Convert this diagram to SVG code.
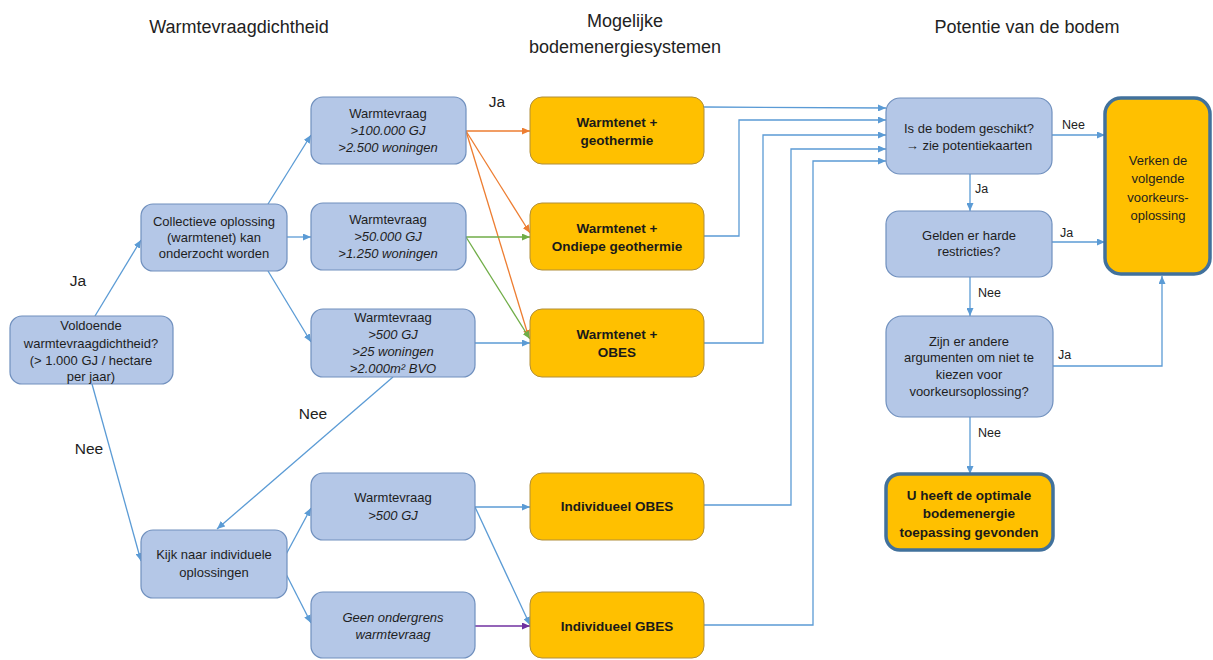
<svg xmlns="http://www.w3.org/2000/svg" width="1213" height="660" viewBox="0 0 1213 660">
<defs>
<style>
.bg{fill:#ffffff}
.blue{fill:#B4C7E7;stroke:#7090BE;stroke-width:1.2}
.orange{fill:#FFC000;stroke:#B08E3A;stroke-width:1}
.final{fill:#FFC000;stroke:#41719C;stroke-width:3.5}
.t{font-family:"Liberation Sans",Arial,sans-serif;font-size:13px;fill:#1e1e1e;text-anchor:middle}
.ti{font-family:"Liberation Sans",Arial,sans-serif;font-size:13px;font-style:italic;fill:#1e1e1e;text-anchor:middle}
.tb{font-family:"Liberation Sans",Arial,sans-serif;font-size:13.5px;font-weight:bold;fill:#1a1a1a;text-anchor:middle}
.title{font-family:"Liberation Sans",Arial,sans-serif;font-size:18px;fill:#222;text-anchor:middle}
.lbl{font-family:"Liberation Sans",Arial,sans-serif;font-size:15.5px;fill:#222;text-anchor:middle}
.sl{font-family:"Liberation Sans",Arial,sans-serif;font-size:12.5px;fill:#222}
.c{fill:none;stroke:#5B9BD5;stroke-width:1.3;marker-end:url(#ab)}
.co{fill:none;stroke:#ED7D31;stroke-width:1.3;marker-end:url(#ao)}
.cg{fill:none;stroke:#70AD47;stroke-width:1.3;marker-end:url(#ag)}
.cp{fill:none;stroke:#7030A0;stroke-width:1.3;marker-end:url(#ap)}
</style>
<marker id="ab" markerWidth="8" markerHeight="7" refX="8" refY="3.5" orient="auto" markerUnits="userSpaceOnUse"><path d="M0,0 L8,3.5 L0,7 z" fill="#5B9BD5"/></marker>
<marker id="ao" markerWidth="8" markerHeight="7" refX="8" refY="3.5" orient="auto" markerUnits="userSpaceOnUse"><path d="M0,0 L8,3.5 L0,7 z" fill="#ED7D31"/></marker>
<marker id="ag" markerWidth="8" markerHeight="7" refX="8" refY="3.5" orient="auto" markerUnits="userSpaceOnUse"><path d="M0,0 L8,3.5 L0,7 z" fill="#70AD47"/></marker>
<marker id="ap" markerWidth="8" markerHeight="7" refX="8" refY="3.5" orient="auto" markerUnits="userSpaceOnUse"><path d="M0,0 L8,3.5 L0,7 z" fill="#7030A0"/></marker>
</defs>
<rect class="bg" x="0" y="0" width="1213" height="660"/>

<g id="titles">
<text class="title" x="239" y="33">Warmtevraagdichtheid</text>
<text class="title" x="625" y="27">Mogelijke</text>
<text class="title" x="625" y="53">bodemenergiesystemen</text>
<text class="title" x="1027" y="33">Potentie van de bodem</text>
</g>

<g id="connectors">
<line class="c" x1="95" y1="316" x2="141" y2="240"/>
<line class="c" x1="92" y1="384" x2="141" y2="561"/>
<line class="c" x1="268" y1="204" x2="311" y2="135"/>
<line class="c" x1="287" y1="237" x2="311" y2="237"/>
<line class="c" x1="268" y1="271" x2="311" y2="342"/>
<line class="c" x1="393" y1="377" x2="217" y2="529"/>
<line class="c" x1="283" y1="560" x2="311" y2="508"/>
<line class="c" x1="283" y1="568" x2="311" y2="623"/>
<line class="co" x1="466" y1="131" x2="530" y2="131"/>
<line class="co" x1="466" y1="131" x2="530" y2="233"/>
<line class="co" x1="466" y1="131" x2="529" y2="338"/>
<line class="cg" x1="466" y1="237" x2="530" y2="237"/>
<line class="cg" x1="466" y1="237" x2="530" y2="339"/>
<line class="c" x1="475" y1="343" x2="530" y2="343"/>
<line class="c" x1="475" y1="507" x2="530" y2="507"/>
<line class="c" x1="475" y1="507" x2="530" y2="625"/>
<line class="cp" x1="475" y1="626" x2="530" y2="626"/>
<polyline class="c" points="704,107 886,108"/>
<polyline class="c" points="704,236 739,236 739,120 886,120"/>
<polyline class="c" points="704,343 763,343 763,135 886,135"/>
<polyline class="c" points="704,505 791,505 791,149 886,149"/>
<polyline class="c" points="704,625 813,625 813,161 886,161"/>
<line class="c" x1="1052" y1="135" x2="1105" y2="135"/>
<line class="c" x1="970" y1="174" x2="970" y2="211"/>
<line class="c" x1="1052" y1="242" x2="1105" y2="242"/>
<line class="c" x1="970" y1="277" x2="970" y2="316"/>
<polyline class="c" points="1053,366 1162,366 1162,276"/>
<line class="c" x1="970" y1="417" x2="970" y2="474"/>
<text class="lbl" x="78" y="286">Ja</text>
<text class="lbl" x="89" y="454">Nee</text>
<text class="lbl" x="313" y="419">Nee</text>
<text class="lbl" x="497" y="107">Ja</text>
<text class="sl" x="1062" y="129">Nee</text>
<text class="sl" x="975" y="193">Ja</text>
<text class="sl" x="1060" y="237">Ja</text>
<text class="sl" x="978" y="297">Nee</text>
<text class="sl" x="1058" y="359">Ja</text>
<text class="sl" x="978" y="437">Nee</text>
</g>

<g id="n-voldoende">
<rect class="blue" x="10" y="316" width="163" height="68" rx="12"/>
<text class="t" x="91" y="330">Voldoende</text>
<text class="t" x="91" y="348">warmtevraagdichtheid?</text>
<text class="t" x="91" y="365">(&gt; 1.000 GJ / hectare</text>
<text class="t" x="91" y="381">per jaar)</text>
</g>
<g id="n-collectief">
<rect class="blue" x="141" y="204" width="146" height="67" rx="12"/>
<text class="t" x="214" y="226">Collectieve oplossing</text>
<text class="t" x="214" y="242">(warmtenet) kan</text>
<text class="t" x="214" y="258">onderzocht worden</text>
</g>
<g id="n-individueel">
<rect class="blue" x="141" y="530" width="146" height="68" rx="12"/>
<text class="t" x="214" y="559">Kijk naar individuele</text>
<text class="t" x="214" y="577">oplossingen</text>
</g>
<g id="n-w100000">
<rect class="blue" x="311" y="97" width="155" height="67" rx="12"/>
<text class="t" x="388" y="118">Warmtevraag</text>
<text class="ti" x="388" y="135">&gt;100.000  GJ</text>
<text class="ti" x="388" y="152">&gt;2.500 woningen</text>
</g>
<g id="n-w50000">
<rect class="blue" x="311" y="203" width="155" height="67" rx="12"/>
<text class="t" x="388" y="224">Warmtevraag</text>
<text class="ti" x="388" y="241">&gt;50.000  GJ</text>
<text class="ti" x="388" y="258">&gt;1.250 woningen</text>
</g>
<g id="n-w500">
<rect class="blue" x="311" y="309" width="164" height="68" rx="12"/>
<text class="t" x="393" y="322">Warmtevraag</text>
<text class="ti" x="393" y="339">&gt;500  GJ</text>
<text class="ti" x="393" y="356">&gt;25 woningen</text>
<text class="ti" x="393" y="373">&gt;2.000m² BVO</text>
</g>
<g id="n-geo">
<rect class="orange" x="530" y="97" width="174" height="67" rx="12"/>
<text class="tb" x="617" y="127">Warmtenet +</text>
<text class="tb" x="617" y="145">geothermie</text>
</g>
<g id="n-ondiep">
<rect class="orange" x="530" y="203" width="174" height="67" rx="12"/>
<text class="tb" x="617" y="233">Warmtenet +</text>
<text class="tb" x="617" y="251">Ondiepe geothermie</text>
</g>
<g id="n-wobes">
<rect class="orange" x="530" y="309" width="174" height="68" rx="12"/>
<text class="tb" x="617" y="339">Warmtenet +</text>
<text class="tb" x="617" y="357">OBES</text>
</g>
<g id="n-w500gj">
<rect class="blue" x="311" y="473" width="164" height="67" rx="12"/>
<text class="t" x="393" y="502">Warmtevraag</text>
<text class="ti" x="393" y="520">&gt;500  GJ</text>
</g>
<g id="n-geen">
<rect class="blue" x="311" y="592" width="164" height="66" rx="12"/>
<text class="ti" x="393" y="622">Geen ondergrens</text>
<text class="ti" x="393" y="639">warmtevraag</text>
</g>
<g id="n-iobes">
<rect class="orange" x="530" y="473" width="174" height="67" rx="12"/>
<text class="tb" x="617" y="511">Individueel OBES</text>
</g>
<g id="n-igbes">
<rect class="orange" x="530" y="592" width="174" height="66" rx="12"/>
<text class="tb" x="617" y="631">Individueel GBES</text>
</g>
<g id="n-bodem">
<rect class="blue" x="886" y="98" width="166" height="76" rx="14"/>
<text class="t" x="969" y="133">Is de bodem geschikt?</text>
<text class="t" x="969" y="150">→ zie potentiekaarten</text>
</g>
<g id="n-restricties">
<rect class="blue" x="886" y="211" width="166" height="66" rx="13"/>
<text class="t" x="969" y="240">Gelden er harde</text>
<text class="t" x="969" y="256">restricties?</text>
</g>
<g id="n-argumenten">
<rect class="blue" x="886" y="316" width="167" height="101" rx="16"/>
<text class="t" x="969" y="346">Zijn er andere</text>
<text class="t" x="969" y="362">argumenten om niet te</text>
<text class="t" x="969" y="379">kiezen voor</text>
<text class="t" x="969" y="396">voorkeursoplossing?</text>
</g>
<g id="n-verken">
<rect class="final" x="1105" y="98" width="105" height="176" rx="16"/>
<text class="t" x="1158" y="165">Verken de</text>
<text class="t" x="1158" y="183">volgende</text>
<text class="t" x="1158" y="202">voorkeurs-</text>
<text class="t" x="1158" y="220">oplossing</text>
</g>
<g id="n-optimaal">
<rect class="final" x="886" y="474" width="167" height="76" rx="14"/>
<text class="tb" x="969" y="500">U heeft de optimale</text>
<text class="tb" x="969" y="518">bodemenergie</text>
<text class="tb" x="969" y="537">toepassing gevonden</text>
</g>
</svg>
